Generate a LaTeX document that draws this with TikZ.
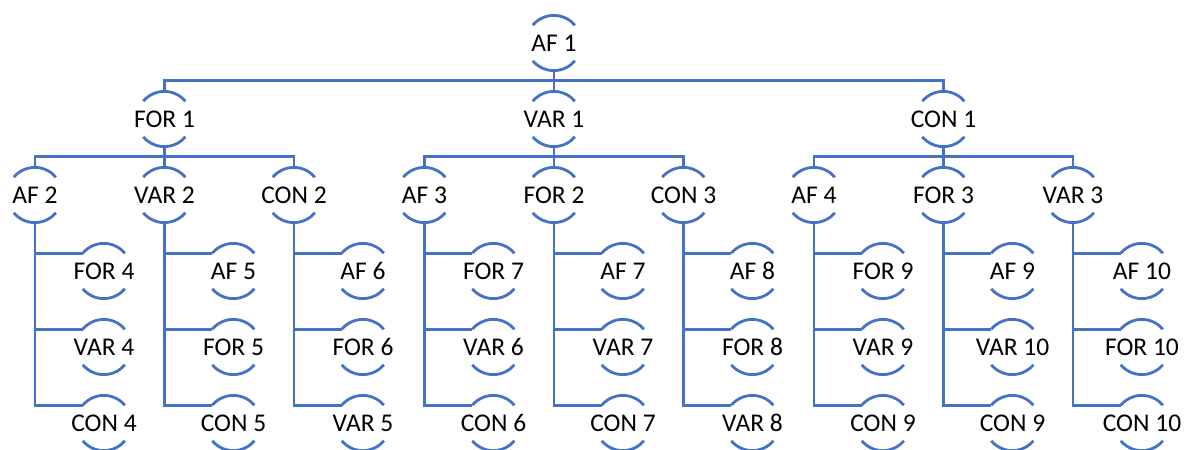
\documentclass[tikz,border=0pt]{standalone}
\usepackage{fontspec}
\setmainfont{Carlito}
\usetikzlibrary{positioning}

\definecolor{treeblue}{RGB}{68,114,196}

\tikzset{
  arcnode/.style={circle, minimum size=55pt, inner sep=0pt,
    label={[font=\fontsize{25.5}{26}\selectfont]center:#1}},
  link/.style={draw=treeblue, line width=2.8pt},
}

% top and bottom arcs round a node
\newcommand{\nodearcs}[1]{%
  \draw[link] (#1.140) arc[start angle=140, end angle=40, radius=27.5pt];
  \draw[link] (#1.220) arc[start angle=220, end angle=320, radius=27.5pt];}

\begin{document}
\begin{tikzpicture}[node distance=76pt and 129.5pt, on grid]
  \useasboundingbox (0,0) rectangle (1184pt,-450pt);
  % root and first level
  \node[arcnode=AF 1] (af1) at (554pt,-43pt) {};
  \node[arcnode=FOR 1, below left=76pt and 389.5pt of af1] (for1) {};
  \node[arcnode=VAR 1, below=of af1] (var1) {};
  \node[arcnode=CON 1, below right=76pt and 389.5pt of af1] (con1) {};
  % second level
  \node[arcnode=AF 2, below left=of for1] (af2) {};
  \node[arcnode=VAR 2, below=of for1] (var2) {};
  \node[arcnode=CON 2, below right=of for1] (con2) {};
  \node[arcnode=AF 3, below left=of var1] (af3) {};
  \node[arcnode=FOR 2, below=of var1] (for2) {};
  \node[arcnode=CON 3, below right=of var1] (con3) {};
  \node[arcnode=AF 4, below left=of con1] (af4) {};
  \node[arcnode=FOR 3, below=of con1] (for3) {};
  \node[arcnode=VAR 3, below right=of con1] (var3) {};

  \foreach \p/\c in {af1/for1, af1/var1, af1/con1,
      for1/af2, for1/var2, for1/con2, var1/af3, var1/for2, var1/con3,
      con1/af4, con1/for3, con1/var3}
    \draw[link] (\p.south) -- ++(0,-10pt) -| (\c.north);
  \foreach \n in {af1, for1, var1, con1, af2, var2, con2,
      af3, for2, con3, af4, for3, var3} {
    \nodearcs{\n}
  }

  % third level, hanging from each second level node
  \foreach \p/\a/\b/\c in {af2/FOR 4/VAR 4/CON 4, var2/AF 5/FOR 5/CON 5,
      con2/AF 6/FOR 6/VAR 5, af3/FOR 7/VAR 6/CON 6, for2/AF 7/VAR 7/CON 7,
      con3/AF 8/FOR 8/VAR 8, af4/FOR 9/VAR 9/CON 9, for3/AF 9/VAR 10/CON 9,
      var3/AF 10/FOR 10/CON 10} {
    \node[arcnode=\a, below right=76pt and 69pt of \p] (\p-1) {};
    \node[arcnode=\b, below=of \p-1] (\p-2) {};
    \node[arcnode=\c, below=of \p-2] (\p-3) {};
    \foreach \k in {1,2,3} {
      \draw[link] (\p.south) |- (\p-\k.140);
      \nodearcs{\p-\k}
    }
  }
\end{tikzpicture}
\end{document}
